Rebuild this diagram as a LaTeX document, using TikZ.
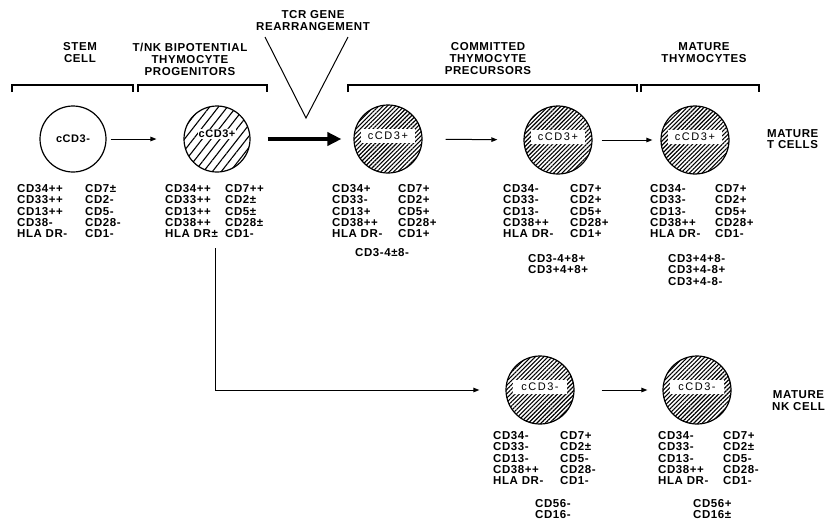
\documentclass[tikz,border=0pt]{standalone}
\usepackage{fontspec}
\setmainfont{Liberation Sans}[LetterSpace=5]
\newfontfamily\tagfont{Liberation Sans}[LetterSpace=14]
\usetikzlibrary{arrows.meta,patterns.meta}

\begin{document}
\begin{tikzpicture}[x=1pt, y=-1pt, >={Triangle[length=6pt,width=4.5pt]},
  cell/.style={circle, draw, line width=1.2pt, minimum size=66pt, inner sep=0pt},
  dense/.style={cell, minimum size=68pt, pattern={Lines[angle=45,distance=3pt,line width=1.1pt]}},
  sparse/.style={cell, pattern={Lines[angle=52,distance=7pt,line width=1.1pt]}},
  band/.style={fill=white, minimum width=54pt, minimum height=14pt, inner sep=0pt, font=\tagfont\fontsize{11}{11}\selectfont},
  mk/.style={align=left, anchor=north west, inner sep=0pt, font=\fontsize{11.5}{11.4}\selectfont\bfseries},
  hd/.style={align=center, inner sep=0pt, font=\fontsize{11.5}{12}\selectfont\bfseries},
  flow/.style={->, line width=1pt}]
\useasboundingbox (0,0) rectangle (826,523);
% headers and brackets
\node[hd] (hstem) at (80,53) {STEM\\CELL};
\node[hd] (htnk) at (190,59) {T/NK BIPOTENTIAL\\THYMOCYTE\\PROGENITORS};
\node[hd] (htcr) at (313,21) {TCR GENE\\REARRANGEMENT};
\node[hd] (hpre) at (488,59) {COMMITTED\\THYMOCYTE\\PRECURSORS};
\node[hd] (hmat) at (704,53) {MATURE\\THYMOCYTES};
\foreach \a/\b in {12/133, 138/267, 348/637, 641/759} \draw[line width=1.1pt] (\a,92) -- (\a,85) -- (\b,85) -- (\b,92);
\draw[line width=1pt] (265,37) -- (306,118) -- (348,37);
% cells
\node[cell, font=\fontsize{11}{11}\selectfont\bfseries] (stem) at (73,139) {cCD3-};
\node[sparse] (tnk) at (217,139) {};
\node[fill=white, inner sep=1pt, font=\fontsize{11}{11}\selectfont\bfseries] (tnkt) at (217,134) {cCD3+};
\foreach \n/\x/\y/\t in {pre1/388/139/cCD3+, pre2/558/140/cCD3+, mat/695/140/cCD3+, nk1/540/390/cCD3-, nk2/697/390/cCD3-}
  {\node[dense] (\n) at (\x,\y) {}; \node[band] (\n t) at (\x,\y-3) {\t};}
% arrows
\draw[flow, shorten <=4pt, shorten >=27pt] (stem) -- (tnk);
\draw[line width=4pt, -{Triangle[length=14pt,width=13pt]}, shorten <=17pt, shorten >=12pt] (tnk) -- (pre1);
\draw[flow, shorten <=23pt, shorten >=26pt] (pre1) -- (pre2);
\draw[flow, shorten <=9pt, shorten >=8pt] (pre2) -- (mat);
\draw[flow, shorten <=27pt, shorten >=15pt] (nk1) -- (nk2);
\coordinate (split) at (215,248);
\draw[flow, shorten >=26pt] (split) |- (nk1);
% surface markers
\foreach \n/\x/\y/\g/\l/\r in {
  stem/17/184/68/{CD34++\\CD33++\\CD13++\\CD38-\\HLA DR-}/{CD7±\\CD2-\\CD5-\\CD28-\\CD1-},
  tnk/165/184/60/{CD34++\\CD33++\\CD13++\\CD38++\\HLA DR±}/{CD7++\\CD2±\\CD5±\\CD28±\\CD1-},
  pre1/332/184/66/{CD34+\\CD33-\\CD13+\\CD38++\\HLA DR-}/{CD7+\\CD2+\\CD5+\\CD28+\\CD1+},
  pre2/503/184/67/{CD34-\\CD33-\\CD13-\\CD38++\\HLA DR-}/{CD7+\\CD2+\\CD5+\\CD28+\\CD1+},
  mat/650/184/65/{CD34-\\CD33-\\CD13-\\CD38++\\HLA DR-}/{CD7+\\CD2+\\CD5+\\CD28+\\CD1-},
  nk1/493/431/67/{CD34-\\CD33-\\CD13-\\CD38++\\HLA DR-}/{CD7+\\CD2±\\CD5-\\CD28-\\CD1-},
  nk2/658/431/65/{CD34-\\CD33-\\CD13-\\CD38++\\HLA DR-}/{CD7+\\CD2±\\CD5-\\CD28-\\CD1-}}
  {\node[mk] (\n-l) at (\x,\y) {\l}; \node[mk] (\n-r) at (\x+\g,\y) {\r};}
\node[mk] (pre1x) at (355,248) {CD3-4±8-};
\node[mk] (pre2x) at (528,254) {CD3-4+8+\\CD3+4+8+};
\node[mk] (matx) at (668,254) {CD3+4+8-\\CD3+4-8+\\CD3+4-8-};
\node[mk] (nk1x) at (535,499) {CD56-\\CD16-};
\node[mk] (nk2x) at (693,499) {CD56+\\CD16±};
\node[mk, anchor=west] (tcells) at (767,139) {MATURE\\T CELLS};
\node[hd, anchor=west] (nkcells) at (772,401) {MATURE\\NK CELL};
\end{tikzpicture}
\end{document}
